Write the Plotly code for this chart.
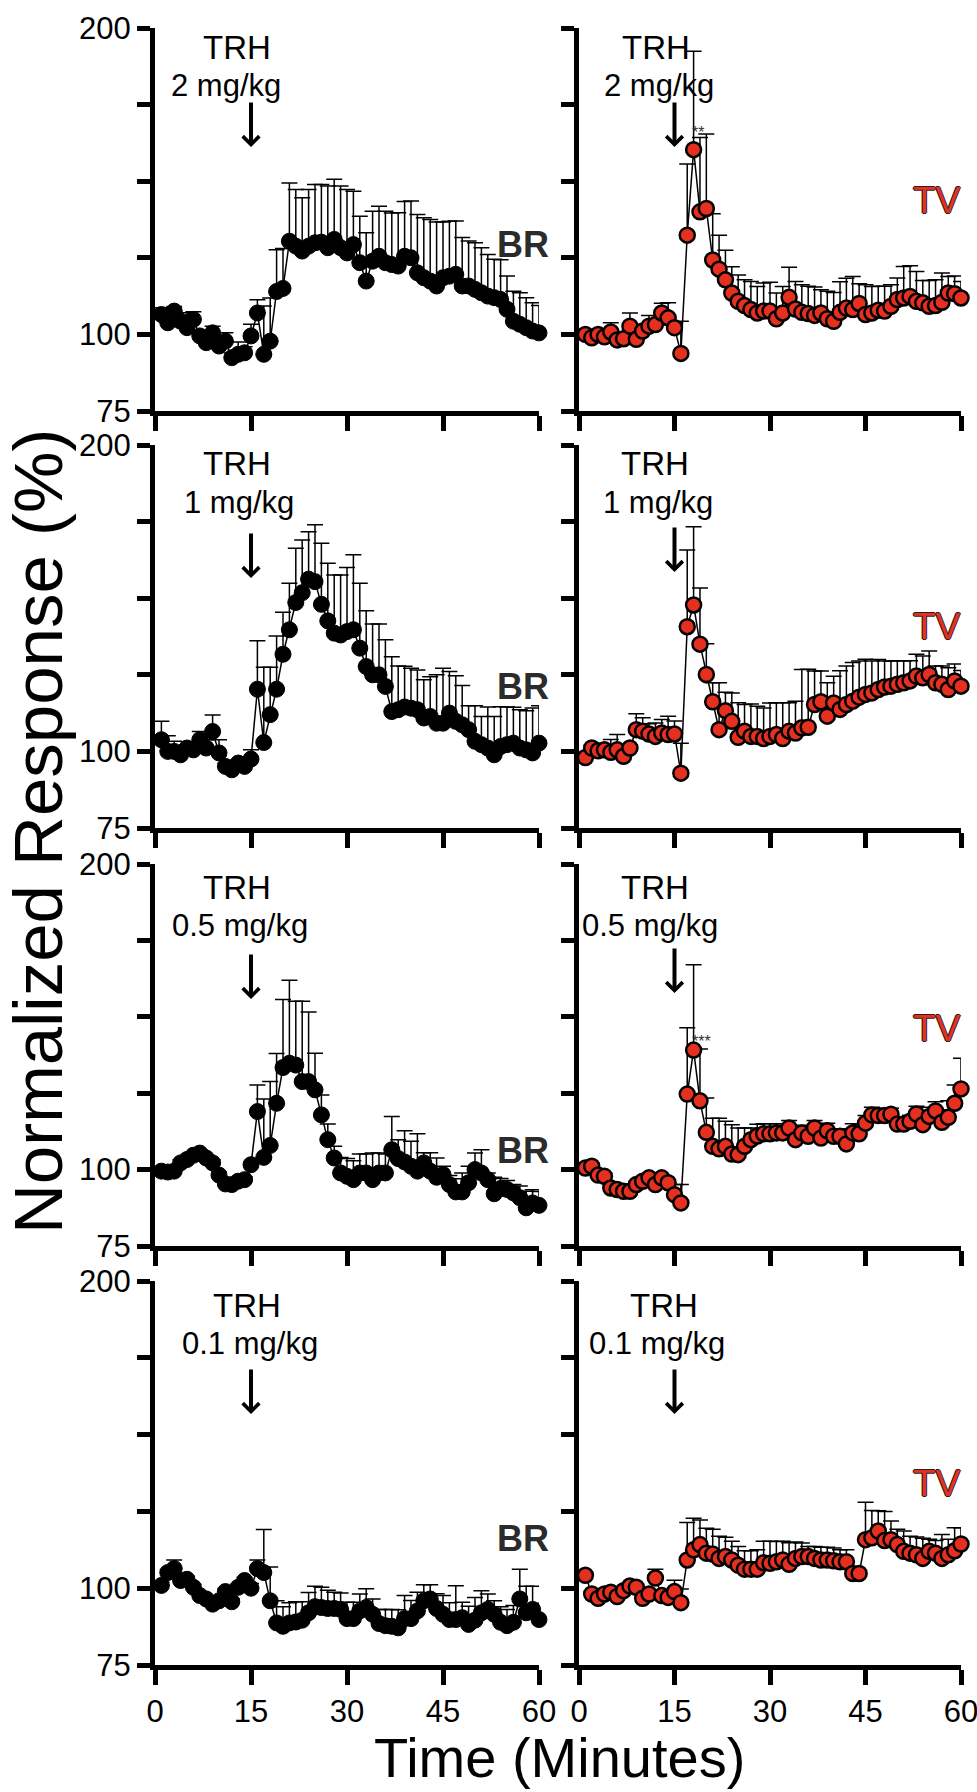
import plotly.graph_objects as go

# ---------------- data ----------------
minutes = list(range(1, 61))

br_2mg = [106.5,103.8,107.6,104.3,102.2,104.9,99.5,97.3,100.5,96.2,97.8,92.4,93.5,94,99.5,107,93.5,97.8,114,115,
          130.4,128.8,127.2,128.8,129.9,130.1,128.3,131,128.3,126.6,129.3,123.4,117.4,123.9,125.5,123.4,122.8,122.3,125.5,125,
          120.1,118.5,117.4,115.8,118.5,119,119.6,115.8,115.8,114.7,113.6,112.5,112,111.4,108.2,104.3,103.3,102.2,101.1,100.5]
br_2mg_sem = [2.2,3.8,1.5,2,4.9,2.5,1.5,2,2.2,2,2.7,1.5,4,2,3.8,4.3,15.8,14.1,13.6,13.0,
              19.0,18.5,17.4,18.5,19,18.8,20.1,19.6,20.1,20.7,17.4,15.2,15.8,16.3,16.3,16.8,16.8,17.4,17.9,18.5,
              19,19.6,20.1,20.9,18.2,17.9,17.4,15.8,14.7,15.2,14.7,13.6,12.5,13,10.9,9.8,10.3,9.8,9.2,8.9]
tv_2mg = [100,98.9,100,99.2,100.8,98.2,98.6,102.7,98.4,101.1,102.7,103.2,107,105.4,102.2,93.8,132.4,160.3,140,141.1,
          124.3,121.3,117.8,113.5,110.8,109.4,108.1,107,107.6,107.6,105.1,107,112.1,108.3,107.2,106.8,106.2,107,105.1,104.3,
          107.2,108.6,108.1,110.1,106.5,107,107.9,107.6,109.2,111.4,111.9,112.4,110.8,110.3,109.2,109.4,110.5,113.5,113.3,111.9]
tv_2mg_sem = [1.5,1.5,1.5,1.5,3,1.5,1.5,4.3,1.5,1.5,3.5,1.5,3.2,4.9,1.5,10.5,23.2,32.1,24.3,24.3,
              15.1,11.1,9.7,8.6,8.6,8.4,9.2,8.6,9.2,9.4,8.4,8.6,9.8,9,9,8.9,9.3,7.6,9.0,9.4,
              10,9.7,10.8,6.4,9.7,8.6,7.8,8.1,7.0,7.0,10.3,10,9.7,7.3,8.4,8.4,9.5,5.4,5.8,5.4]

br_1mg = [103.8,100,100,98.9,101.1,100.5,103.8,101.1,106.5,99.5,95.1,94,96.2,95.1,97.5,120.3,102.9,112,120.3,131.7,
          139.7,148.6,151.8,156.2,155.4,148,142.6,138.6,138,139.1,139.7,133.7,127.7,125,125,121.2,113,113.6,114.5,114.1,
          113.6,110.9,111.4,109.2,109.2,112.5,109.8,108.7,107.1,103.3,102.2,101.1,98.9,101.6,102.2,102.7,101.1,100.5,99.5,102.7]
br_1mg_sem = [6,5.1,3.3,1,1.1,1,2.7,2.7,5.4,4.3,1,1,1,1,3,15.8,24.6,15.5,17.4,13.7,
              15.2,17.7,17.2,15.5,18.6,19.9,18.8,19,19.6,20.9,24.5,21.2,18.2,16.6,16.6,15.2,17.9,14.3,13.3,13,
              13,12.5,13,15.8,17.9,13.6,14.9,12.8,7.8,11.6,9.2,13.4,12.5,13,12.3,11.7,12.5,12.8,14.7,12.2]
tv_1mg = [98,101.1,100.2,100.5,99.7,100.5,98.4,101.1,107.1,106.6,105.7,104.9,106,105.5,105.7,92.9,140.7,147.8,135,125.1,
          116.2,107.1,113.3,109.8,104.6,106.6,104.9,104.9,104.2,104.9,105.5,104.2,106.6,106,107.7,107.9,115.3,116.2,111.5,115.8,
          113.7,115.3,116.4,117.7,118.6,119.1,120.2,121,121.3,121.9,122.4,123,124.6,124,125.1,122.4,121.9,120.2,123,121.3]
tv_1mg_sem = [1,1,1,1,4.2,5,1.5,1,5.2,4.4,3.3,4.4,4.4,6,4.2,9.8,25,25.5,18.3,10,
              6.2,15.3,6,9.3,11.3,8.7,10.6,9.8,10,10.9,10.4,11.7,9.3,10.4,19,18.9,10.9,10,10.9,8.7,
              12.6,12.6,12.6,11.8,11.5,10.4,9.8,8.5,8.2,7.7,7.1,6.6,7.1,7.1,7.7,5.5,6,7.1,5.5,5.1]

br_05mg = [99.5,99.2,99.5,102.2,103.3,104.7,105.4,103.8,102.2,98.2,95.3,95.1,96.2,96.7,101.6,119,104,107.9,121.7,133.4,
           134.8,134.2,128.8,128.8,126.1,117.9,109.8,103.8,98.9,97.8,96.7,98.9,98.9,96.7,98.9,98.9,106.5,103.6,102.5,101.1,
           99.5,102.2,99.5,97.5,98.4,95.1,92.7,92.7,95.7,100,98.9,96.7,92.1,93.8,93.5,92.4,90.8,87.5,89.1,88.3]
br_05mg_sem = [1,1,1,1,1,1,1,1,1,1,1,1,1,1,1,8.7,19.1,20.9,16.3,22.3,
               27.2,20.9,26.3,22.8,12,6.5,5.1,3.8,5.1,5.8,6.2,6.2,6.2,8.7,6.5,6.2,10.9,6.2,10.2,8.2,
               12.2,3.3,6,6.3,2.7,3,4.3,6.2,5.4,5.4,7.6,2.2,5.4,3.3,2.9,2.7,3.8,5.4,4.3,4.5]
tv_05mg = [100.5,101.1,98.2,97.8,94,93.5,92.9,92.9,95.1,96.2,97.3,95.1,97.3,95.7,91.8,89.1,124.7,139.1,122.5,112.2,
           107.6,106.8,107.6,105.1,104.9,107.6,109.8,111,111.7,111.7,112,112,113.6,109.8,112,110.9,113.6,110.3,112.7,110.9,
           110.9,108.4,112,111.7,115.2,117.9,117.7,117.7,118.1,114.9,114.9,115.8,118.2,114.7,117.4,119.2,115.5,117.1,121.7,126.4]
tv_05mg_sem = [1,1,1,1,1,1.5,1.5,1,1,1,1,1,1,1,3.3,6,21.7,27.9,17,11.2,
               9.2,10,8.2,9.6,8.7,6,3.8,3.8,3.3,3.3,3,3,2.5,2.5,2.5,2.5,2.5,2.5,2.5,2.5,
               2.5,2.5,3,3,2.5,2.5,2,2,2,2,2,2,2.5,2.5,3,3,4,5.4,6,10]

br_01mg = [100.9,105.1,106.4,102.5,102.9,100.3,97.6,96.5,94.8,95.9,98.9,95.6,100.3,102.5,100,106.4,105.1,95.9,88.7,87.6,
           88.7,89,89.6,92,94,93.7,93.4,93.4,93.1,90.1,90.1,92.6,93.7,91.5,88.5,87.8,87.6,87.1,90.1,90.1,
           92.6,95.9,96.5,93.4,91.5,89.8,89.8,90.4,88.2,89.6,92,93.1,91.5,88.9,87.8,88.9,96.5,92,93.1,89.8]
br_01mg_sem = [1,1,2.8,1,1,1,1,1,1,1,1,1,1,1,1.5,2.8,14,11,7.2,6.4,
               6.6,6.6,6,6.6,6.6,6.6,5.9,5.3,5.3,5.3,5.3,5.5,6.1,5,4.6,5.3,5.5,5.9,7.5,5.9,
               6.1,5.2,4.6,4.8,6.1,5.5,11,5,5.9,7.4,7.2,5,4.4,5.1,5.3,5.5,9.7,8.6,7.5,5.3]
tv_01mg = [104.2,98.1,96.7,98.1,98.7,97.3,99.2,100.7,100.3,96.7,98.1,103.3,97.6,97,98.9,95.3,109.2,112.5,114.2,111.4,
           111.1,109.7,110.3,109.2,107.5,106.2,106.2,106.2,108.3,108.1,108.6,109.2,107.8,109.7,110.3,110.3,109.7,109.2,109.2,108.9,
           108.6,108.6,104.8,104.8,115.8,116.4,118.6,115.5,115.8,114.2,112,111.4,110.9,109.7,112,111.4,109.7,110.9,112.2,114.4]
tv_01mg_sem = [1,1,1,1,1,1,1,1,1,1,1,2.9,1,1,3.7,4.4,12.2,10.3,8,8.1,
               8.1,7.2,6.3,6.1,6.1,6,6,6.3,7,7.2,6.6,6.1,7,5.3,4.4,3.3,3.9,4.1,4.1,4.2,
               3.9,3.9,1,1,12.2,8.9,6.6,9.5,6.1,5,6.6,5.5,5.8,6.6,3.9,4.1,7.8,5,7.5,5.3]

doses = ["2 mg/kg", "1 mg/kg", "0.5 mg/kg", "0.1 mg/kg"]
br_series = [br_2mg, br_1mg, br_05mg, br_01mg]
br_errors = [br_2mg_sem, br_1mg_sem, br_05mg_sem, br_01mg_sem]
tv_series = [tv_2mg, tv_1mg, tv_05mg, tv_01mg]
tv_errors = [tv_2mg_sem, tv_1mg_sem, tv_05mg_sem, tv_01mg_sem]

x_ticks = [0, 15, 30, 45, 60]
y_ticks = [75, 100, 125, 150, 175, 200]
y_ticktext = ["75", "100", "", "", "", "200"]
injection_time = 15

# ---------------- layout geometry (pixels) ----------------
W, H = 977, 1792
FONT = "Liberation Sans, Arial, Helvetica, sans-serif"
TV_RED = "#e6301f"


def px(x):
    return x / W


def py(y):
    return 1 - y / H


left_dom = [px(155), px(539)]
right_dom = [px(579), px(961)]
rows_px = [(28, 411), (445, 828), (864, 1246), (1281, 1665)]

trh_y = [47, 463, 887, 1305]
dose_y = [86, 502, 925, 1343]
arrow_tip = [(147, 147), (578, 572), (999, 993), (1414, 1414)]
trh_x = [(237, 656), (237, 655), (237, 655), (247, 664)]
dose_x = [(226, 659), (239, 658), (240, 650), (250, 657)]
br_label_y = [244, 686, 1150, 1538]
tv_label_y = [200, 626, 1028, 1483]

fig = go.Figure()
layout = dict(
    width=W, height=H,
    margin=dict(l=0, r=0, t=0, b=0, autoexpand=False),
    paper_bgcolor="white", plot_bgcolor="white",
    showlegend=False,
    font=dict(family=FONT, color="black"),
)
annotations = []

for r in range(4):
    top, bot = rows_px[r]
    ydom = [py(bot), py(top)]
    for c in range(2):
        idx = 2 * r + c + 1
        xname = "x" if idx == 1 else f"x{idx}"
        yname = "y" if idx == 1 else f"y{idx}"
        xkey = "xaxis" if idx == 1 else f"xaxis{idx}"
        ykey = "yaxis" if idx == 1 else f"yaxis{idx}"
        layout[xkey] = dict(
            domain=left_dom if c == 0 else right_dom, anchor=yname, automargin=False,
            range=[0, 60], tickvals=x_ticks, ticktext=[str(v) for v in x_ticks],
            showticklabels=(r == 3), ticks="outside", ticklen=15, tickwidth=5,
            ticklabeloverflow="allow",
            showline=True, linewidth=5, linecolor="black", tickcolor="black",
            showgrid=False, zeroline=False, tickfont=dict(size=31, family=FONT, color="black"),
        )
        layout[ykey] = dict(
            domain=ydom, anchor=xname, automargin=False,
            range=[75, 200], tickvals=y_ticks, ticktext=y_ticktext,
            showticklabels=(c == 0), ticks="outside", ticklen=13, tickwidth=5,
            ticklabeloverflow="allow",
            showline=True, linewidth=5, linecolor="black", tickcolor="black",
            showgrid=False, zeroline=False, tickfont=dict(size=31, family=FONT, color="black"),
        )
        if c == 0:
            vals, errs = br_series[r], br_errors[r]
            marker = dict(color="black", size=16, line=dict(color="black", width=1))
        else:
            vals, errs = tv_series[r], tv_errors[r]
            marker = dict(color=TV_RED, size=15, line=dict(color="black", width=2.5))
        fig.add_trace(go.Scatter(
            x=minutes, y=vals, xaxis=xname, yaxis=yname,
            mode="lines+markers", cliponaxis=False,
            line=dict(color="black", width=1.5),
            marker=marker,
            error_y=dict(type="data", array=errs, arrayminus=[0] * len(errs), symmetric=False,
                         color="black", thickness=1.5, width=8),
        ))
        annotations.append(dict(text="TRH", xref="paper", yref="paper",
                                x=px(trh_x[r][c]), y=py(trh_y[r]), xanchor="center", yanchor="middle",
                                showarrow=False, font=dict(size=33, family=FONT, color="black")))
        annotations.append(dict(text=doses[r], xref="paper", yref="paper",
                                x=px(dose_x[r][c]), y=py(dose_y[r]), xanchor="center", yanchor="middle",
                                showarrow=False, font=dict(size=31, family=FONT, color="black")))
        annotations.append(dict(text="", xref=xname, yref="paper",
                                x=injection_time, y=py(arrow_tip[r][c]), ax=0, ay=-46,
                                showarrow=True, arrowhead=4, arrowsize=0.8, arrowwidth=4,
                                arrowcolor="black", standoff=0))
        if c == 0:
            annotations.append(dict(text="<b>BR</b>", xref="paper", yref="paper",
                                    x=px(551), y=py(br_label_y[r]), xanchor="right", yanchor="middle",
                                    showarrow=False, font=dict(size=36, family=FONT, color="#2b2b2b")))
        else:
            annotations.append(dict(text="TV", xref="paper", yref="paper",
                                    x=px(963), y=py(tv_label_y[r]), xanchor="right", yanchor="middle",
                                    showarrow=False,
                                    font=dict(size=37, family=FONT, color=TV_RED,
                                              shadow="1px 0 0 #222, -1px 0 0 #222, 0 1px 0 #222, 0 -1px 0 #222")))

annotations.append(dict(text="**", xref="paper", yref="paper", x=px(706), y=py(122),
                        showarrow=False, font=dict(size=16, family=FONT, color="#333")))
annotations.append(dict(text="***", xref="paper", yref="paper", x=px(713), y=py(1041),
                        showarrow=False, font=dict(size=16, family=FONT, color="#333")))

annotations.append(dict(text="Time (Minutes)", xref="paper", yref="paper", x=px(559), y=py(1757),
                        xanchor="center", yanchor="middle", showarrow=False,
                        font=dict(size=56, family=FONT, color="black")))
annotations.append(dict(text="Normalized Response (%)", xref="paper", yref="paper", x=px(38), y=py(832),
                        xanchor="center", yanchor="middle", textangle=-90, showarrow=False,
                        font=dict(size=69, family=FONT, color="black")))

layout["annotations"] = annotations
fig.update_layout(**layout)

# remove the default page margin so the figure sits at the window's top-left corner
page_fix = "document.body.style.margin='0';document.body.style.overflow='hidden';"
fig.write_html("out.html", post_script=page_fix, config={"displayModeBar": False})
